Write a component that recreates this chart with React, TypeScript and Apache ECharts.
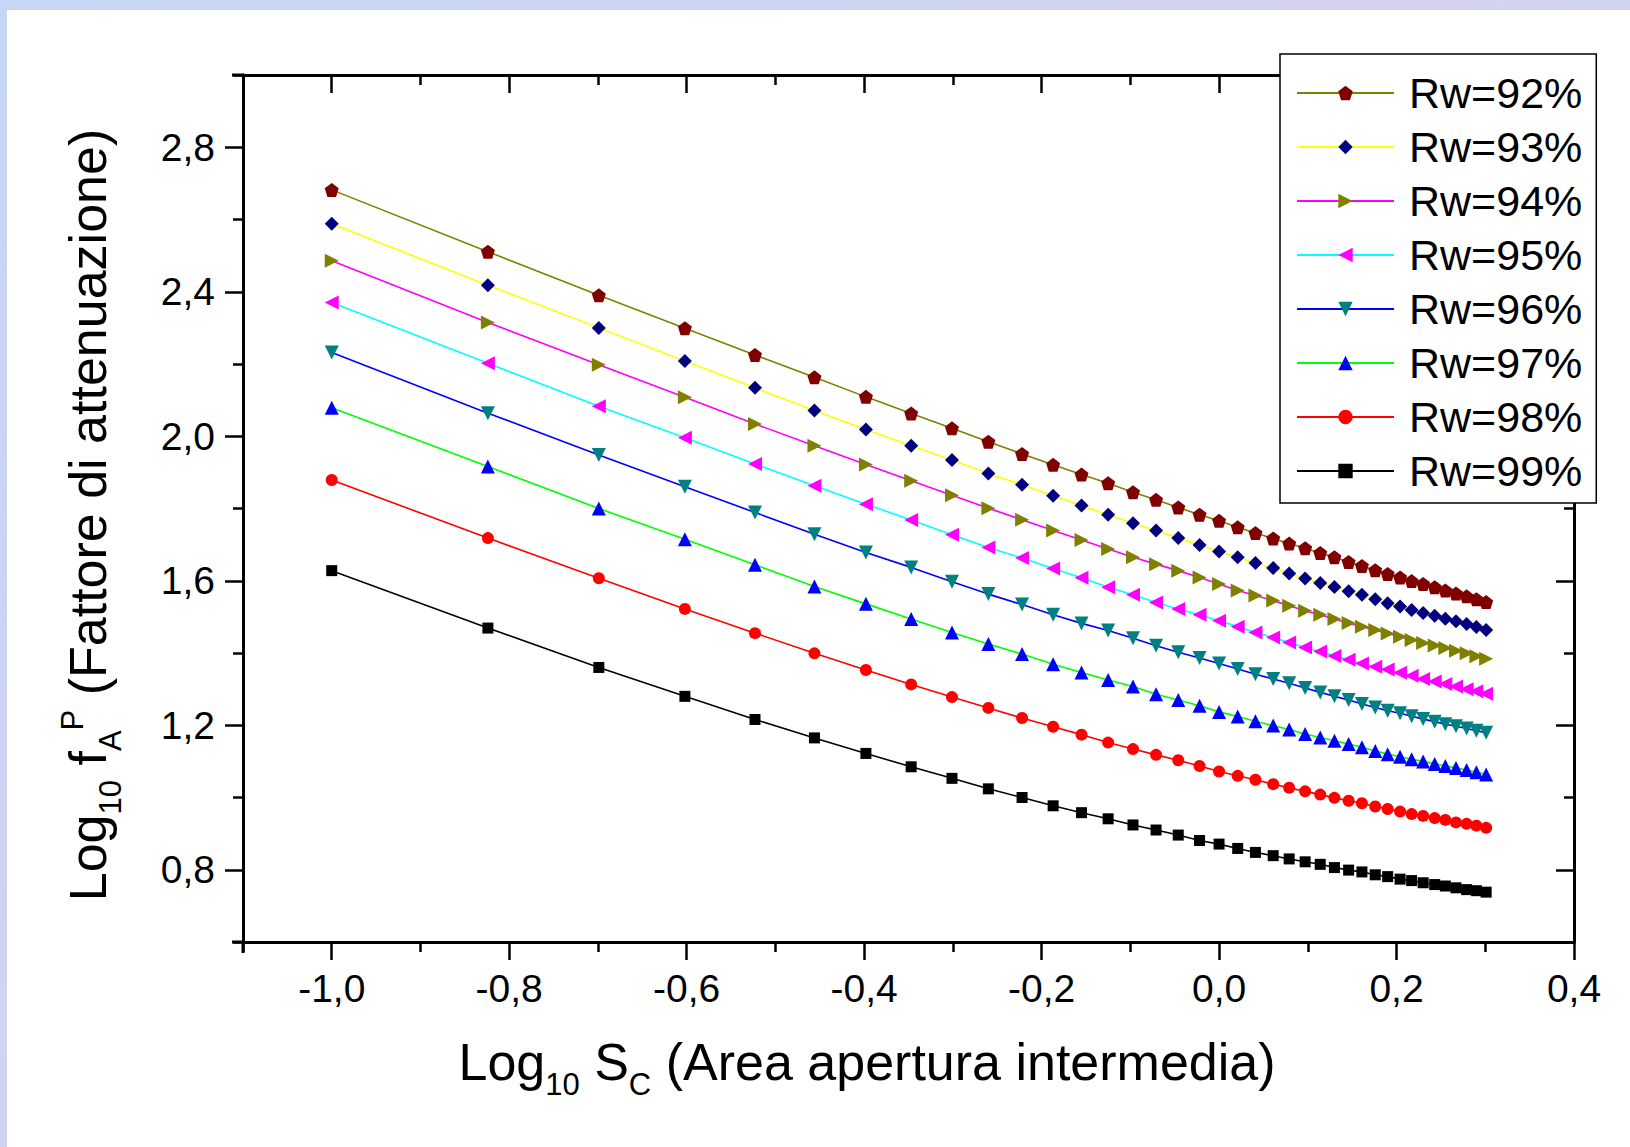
import React, { useEffect, useRef } from "react";
import * as echarts from "echarts";

// ---------- data ----------
const logSc = [
  -1.0, -0.824, -0.699, -0.602, -0.523, -0.456, -0.398, -0.347, -0.301, -0.26,
  -0.222, -0.187, -0.155, -0.125, -0.097, -0.071, -0.046, -0.022, 0.0, 0.021,
  0.041, 0.061, 0.079, 0.097, 0.114, 0.13, 0.146, 0.161, 0.176, 0.19, 0.204,
  0.217, 0.23, 0.243, 0.255, 0.267, 0.279, 0.29, 0.301,
];

const rw92 = [
  2.682, 2.511, 2.39, 2.299, 2.225, 2.163, 2.109, 2.063, 2.022, 1.985, 1.951,
  1.921, 1.894, 1.87, 1.845, 1.824, 1.803, 1.783, 1.766, 1.748, 1.732, 1.717,
  1.703, 1.69, 1.677, 1.665, 1.652, 1.641, 1.629, 1.619, 1.609, 1.599, 1.591,
  1.582, 1.573, 1.565, 1.557, 1.549, 1.541,
];
const rw93 = [
  2.588, 2.418, 2.3, 2.208, 2.134, 2.071, 2.019, 1.974, 1.934, 1.897, 1.866,
  1.835, 1.808, 1.783, 1.759, 1.739, 1.718, 1.699, 1.681, 1.665, 1.649, 1.635,
  1.62, 1.606, 1.594, 1.583, 1.571, 1.561, 1.549, 1.538, 1.529, 1.519, 1.511,
  1.503, 1.495, 1.488, 1.48, 1.472, 1.464,
];
const rw94 = [
  2.486, 2.315, 2.198, 2.108, 2.034, 1.974, 1.922, 1.877, 1.837, 1.801, 1.769,
  1.739, 1.713, 1.688, 1.665, 1.646, 1.628, 1.609, 1.591, 1.573, 1.559, 1.545,
  1.531, 1.517, 1.506, 1.494, 1.483, 1.473, 1.464, 1.454, 1.445, 1.436, 1.428,
  1.421, 1.414, 1.406, 1.399, 1.391, 1.384,
];
const rw95 = [
  2.37, 2.202, 2.083, 1.996, 1.923, 1.863, 1.812, 1.768, 1.727, 1.692, 1.663,
  1.634, 1.608, 1.582, 1.561, 1.54, 1.522, 1.506, 1.489, 1.473, 1.457, 1.443,
  1.429, 1.415, 1.404, 1.392, 1.381, 1.371, 1.362, 1.354, 1.345, 1.337, 1.328,
  1.321, 1.314, 1.307, 1.3, 1.294, 1.287,
];
const rw96 = [
  2.232, 2.064, 1.948, 1.86, 1.789, 1.729, 1.678, 1.637, 1.597, 1.563, 1.534,
  1.506, 1.482, 1.462, 1.441, 1.42, 1.402, 1.386, 1.371, 1.356, 1.341, 1.328,
  1.316, 1.303, 1.291, 1.28, 1.27, 1.259, 1.249, 1.24, 1.233, 1.225, 1.217,
  1.21, 1.203, 1.197, 1.191, 1.185, 1.179,
];
const rw97 = [
  2.079, 1.916, 1.8, 1.715, 1.644, 1.584, 1.536, 1.494, 1.457, 1.425, 1.397,
  1.369, 1.346, 1.325, 1.307, 1.286, 1.27, 1.254, 1.237, 1.224, 1.211, 1.199,
  1.188, 1.176, 1.166, 1.157, 1.148, 1.139, 1.129, 1.12, 1.113, 1.106, 1.1,
  1.093, 1.087, 1.082, 1.076, 1.07, 1.064,
];
const rw98 = [
  1.879, 1.718, 1.607, 1.522, 1.455, 1.399, 1.353, 1.313, 1.278, 1.248, 1.22,
  1.196, 1.174, 1.152, 1.134, 1.118, 1.103, 1.087, 1.072, 1.06, 1.049, 1.037,
  1.027, 1.017, 1.008, 0.999, 0.991, 0.984, 0.975, 0.968, 0.961, 0.954, 0.949,
  0.943, 0.938, 0.931, 0.927, 0.922, 0.916,
];
const rw99 = [
  1.628, 1.469, 1.36, 1.28, 1.216, 1.165, 1.122, 1.085, 1.053, 1.024, 1.0,
  0.977, 0.958, 0.941, 0.924, 0.91, 0.896, 0.881, 0.871, 0.859, 0.848, 0.839,
  0.83, 0.822, 0.815, 0.806, 0.799, 0.794, 0.786, 0.781, 0.774, 0.77, 0.764,
  0.759, 0.755, 0.75, 0.745, 0.742, 0.738,
];

const seriesNames = ["Rw=92%", "Rw=93%", "Rw=94%", "Rw=95%", "Rw=96%", "Rw=97%", "Rw=98%", "Rw=99%"];
const seriesValues = [rw92, rw93, rw94, rw95, rw96, rw97, rw98, rw99];

const xMajorTicks = [-1.0, -0.8, -0.6, -0.4, -0.2, 0.0, 0.2, 0.4];
const xMinorTicks = [-1.1, -0.9, -0.7, -0.5, -0.3, -0.1, 0.1, 0.3];
const yMajorTicks = [0.8, 1.2, 1.6, 2.0, 2.4, 2.8];
const yMinorTicks = [0.6, 1.0, 1.4, 1.8, 2.2, 2.6, 3.0];
const xRange = [-1.1, 0.4];
const yRange = [0.6, 3.0];

// ---------- styles ----------
const FONT = '"Liberation Sans", Arial, Helvetica, sans-serif';
const lineColors = ["#808000", "#ffff00", "#ff00ff", "#00ffff", "#0000ff", "#00ff00", "#ff0000", "#000000"];
const markerColors = ["#800000", "#000080", "#808000", "#ff00ff", "#008080", "#0000ff", "#ff0000", "#000000"];
const markerSymbols = [
  "path://M50,0 L97.55,34.55 L79.39,90.45 L20.61,90.45 L2.45,34.55 Z",
  "diamond",
  "path://M0,0 L100,50 L0,100 Z",
  "path://M100,0 L0,50 L100,100 Z",
  "path://M0,0 L100,0 L50,90 Z",
  "path://M50,0 L100,90 L0,90 Z",
  "circle",
  "rect",
];
const markerSizes = [14, 14, 14, 14, 14, 14, 12, 11];

const fmt = (v: number) => v.toFixed(1).replace(".", ",").replace("-0,0", "0,0");

export default function App() {
  const ref = useRef<HTMLDivElement>(null);

  useEffect(() => {
    if (!ref.current) return;
    const chart = echarts.init(ref.current, undefined, { renderer: "svg" });

    const axisLineStyle = { show: true, onZero: false, lineStyle: { color: "#000", width: 3 } };
    const noLine = { show: false, onZero: false };
    const tickLine = { color: "#000", width: 2.5 };
    const baseX = { type: "value", min: xRange[0], max: xRange[1], splitLine: { show: false } };
    const baseY = { type: "value", min: yRange[0], max: yRange[1], splitLine: { show: false } };

    const xAxis = [
      {
        ...baseX,
        position: "bottom",
        axisLine: axisLineStyle,
        axisTick: { show: true, customValues: xMajorTicks, length: 18, lineStyle: tickLine },
        axisLabel: {
          show: true,
          customValues: xMajorTicks,
          formatter: fmt,
          fontSize: 39,
          fontFamily: FONT,
          color: "#000",
          margin: 27,
        },
      },
      {
        ...baseX,
        position: "bottom",
        axisLine: noLine,
        axisTick: { show: true, customValues: xMinorTicks, length: 10, lineStyle: tickLine },
        axisLabel: { show: false },
      },
      {
        ...baseX,
        position: "top",
        axisLine: axisLineStyle,
        axisTick: { show: true, inside: true, customValues: xMajorTicks, length: 18, lineStyle: tickLine },
        axisLabel: { show: false },
      },
      {
        ...baseX,
        position: "top",
        axisLine: noLine,
        axisTick: { show: true, inside: true, customValues: xMinorTicks, length: 10, lineStyle: tickLine },
        axisLabel: { show: false },
      },
    ];

    const yAxis = [
      {
        ...baseY,
        position: "left",
        axisLine: axisLineStyle,
        axisTick: { show: true, customValues: yMajorTicks, length: 18, lineStyle: tickLine },
        axisLabel: {
          show: true,
          customValues: yMajorTicks,
          formatter: fmt,
          fontSize: 39,
          fontFamily: FONT,
          color: "#000",
          margin: 28,
        },
      },
      {
        ...baseY,
        position: "left",
        axisLine: noLine,
        axisTick: { show: true, customValues: yMinorTicks, length: 10, lineStyle: tickLine },
        axisLabel: { show: false },
      },
      {
        ...baseY,
        position: "right",
        axisLine: axisLineStyle,
        axisTick: { show: true, inside: true, customValues: yMajorTicks, length: 18, lineStyle: tickLine },
        axisLabel: { show: false },
      },
      {
        ...baseY,
        position: "right",
        axisLine: noLine,
        axisTick: { show: true, inside: true, customValues: yMinorTicks, length: 10, lineStyle: tickLine },
        axisLabel: { show: false },
      },
    ];

    const series = seriesNames.map((name, i) => ({
      name,
      type: "line",
      xAxisIndex: 0,
      yAxisIndex: 0,
      data: logSc.map((x, j) => [x, seriesValues[i][j]]),
      symbol: markerSymbols[i],
      symbolSize: markerSizes[i],
      showSymbol: true,
      showAllSymbol: true,
      lineStyle: { color: lineColors[i], width: 1.6 },
      itemStyle: { color: markerColors[i], opacity: 1 },
      emphasis: { disabled: true },
      silent: true,
      z: 3 + (7 - i) * 0.01,
    }));

    const titleRich = {
      n: { fontSize: 52, fontFamily: FONT, fill: "#000", lineHeight: 76 },
      s: { fontSize: 31, fontFamily: FONT, fill: "#000", verticalAlign: "bottom" },
      p: { fontSize: 31, fontFamily: FONT, fill: "#000", verticalAlign: "top", height: 44 },
    };

    chart.setOption({
      animation: false,
      backgroundColor: "transparent",
      grid: { left: 243, right: 56, top: 75, bottom: 205, containLabel: false },
      xAxis,
      yAxis,
      legend: {
        show: true,
        orient: "vertical",
        left: 1280,
        top: 54,
        padding: [17, 14, 10, 16],
        itemWidth: 97,
        itemHeight: 18,
        itemGap: 10,
        backgroundColor: "#fff",
        borderColor: "#000",
        borderWidth: 1.5,
        selectedMode: false,
        textStyle: {
          fontSize: 43,
          fontFamily: FONT,
          color: "#000",
          lineHeight: 44,
          padding: [0, 0, 0, 10],
        },
        data: seriesNames,
        z: 10,
      },
      graphic: [
        // Origin-style axis overhangs
        { type: "line", z: 5, shape: { x1: 232, y1: 942, x2: 244, y2: 942 }, style: { stroke: "#000", lineWidth: 3 } },
        { type: "line", z: 5, shape: { x1: 232, y1: 75, x2: 244, y2: 75 }, style: { stroke: "#000", lineWidth: 3 } },
        { type: "line", z: 5, shape: { x1: 243, y1: 941, x2: 243, y2: 953 }, style: { stroke: "#000", lineWidth: 3 } },
        {
          type: "text",
          z: 5,
          x: 867,
          y: 1062,
          style: {
            text: "{n|Log}{s|10}{n| S}{s|C}{n| (Area apertura intermedia)}",
            rich: titleRich,
            align: "center",
            verticalAlign: "middle",
          },
        },
        {
          type: "text",
          z: 5,
          x: 88,
          y: 515,
          rotation: Math.PI / 2,
          style: {
            text: "{n|Log}{s|10}{n| f}{s|A}{p|P}{n| (Fattore di attenuazione)}",
            rich: titleRich,
            align: "center",
            verticalAlign: "middle",
          },
        },
      ],
      series,
    } as any);

    return () => chart.dispose();
  }, []);

  return (
    <div
      style={{
        position: "fixed",
        left: 0,
        top: 0,
        width: 1630,
        height: 1147,
        background: "linear-gradient(135deg, #c6d6f4 0%, #d4d2f2 50%, #c4d9f2 100%)",
        overflow: "hidden",
      }}
    >
      <div style={{ position: "absolute", left: 7, top: 10, width: 1623, height: 1137, background: "#fff" }} />
      <div ref={ref} style={{ position: "absolute", left: 0, top: 0, width: 1630, height: 1147 }} />
    </div>
  );
}
